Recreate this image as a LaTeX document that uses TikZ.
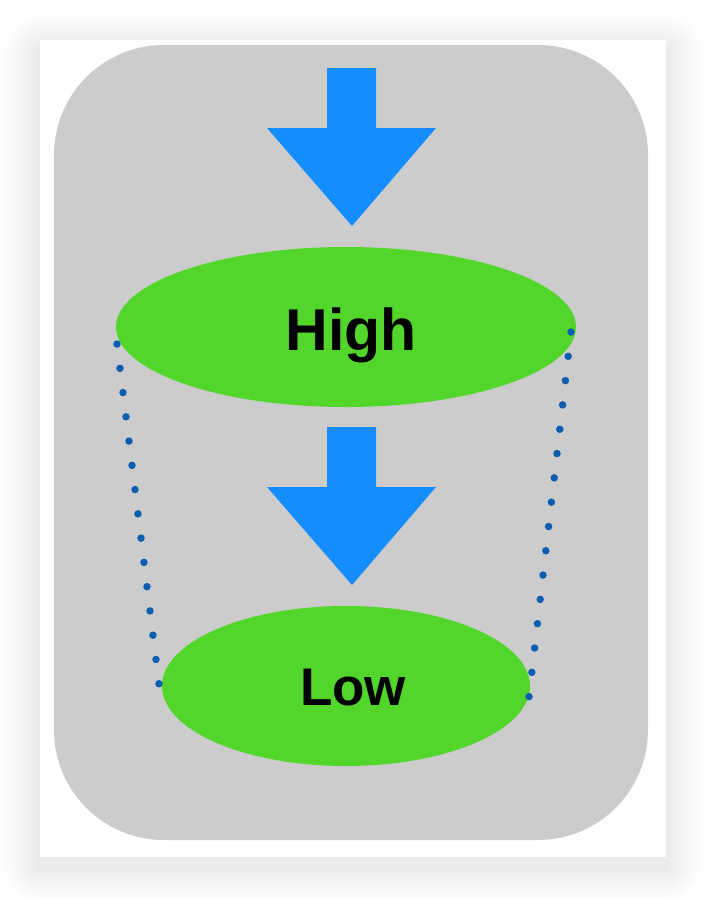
\documentclass[tikz,border=0pt]{standalone}
\usepackage{fontspec}
\setmainfont{Liberation Sans}
\usetikzlibrary{calc,shapes.geometric}
\definecolor{panelgray}{RGB}{204,204,204}
\definecolor{nodegreen}{RGB}{83,214,44}
\definecolor{arrowblue}{RGB}{20,142,255}
\definecolor{dotblue}{RGB}{12,94,176}
\tikzset{
  level/.style={ellipse, fill=nodegreen, inner sep=0pt},
  bigarrow/.style={fill=arrowblue, draw=none},
  dotline/.style={draw=dotblue, line width=7.5pt, line cap=round},
  lbl/.style={anchor=base, inner sep=0pt, font=\bfseries}
}
\begin{document}
\begin{tikzpicture}[x=1pt,y=-1pt]
\useasboundingbox (0,0) rectangle (706,898);
% soft shadow
\foreach \i in {1,...,10}{
  \fill[black, opacity=0.007, rounded corners={4*\i pt}] (40-3.5*\i,40-3.5*\i+9) rectangle (666+3.5*\i,857+3.5*\i+9);
}
% card
\fill[white] (40,40) rectangle (666,857);
% panel
\fill[panelgray, rounded corners=110pt] (54,45) rectangle (648,840);
% arrows
\fill[bigarrow] (327,68) -- (376,68) -- (376,128) -- (436,128) -- (352,226) -- (267,128) -- (327,128) -- cycle;
\fill[bigarrow] (327,427) -- (376,427) -- (376,487) -- (436,487) -- (352,585) -- (267,487) -- (327,487) -- cycle;
% ellipses
\node[level, minimum width=460pt, minimum height=160pt] (high) at (346,327) {};
\node[level, minimum width=368pt, minimum height=160pt] (low) at (346,686) {};
\node[lbl, font=\fontsize{59}{59}\selectfont\bfseries] (hightext) at (351,350) {High};
\node[lbl, font=\fontsize{53}{53}\selectfont\bfseries] (lowtext) at (353,705) {Low};
% dotted connectors
\coordinate (hl) at (117,344);
\coordinate (ll) at (159,684);
\coordinate (hr) at (571,332);
\coordinate (lr) at (529,697);
\draw[dotline, dash pattern=on 0pt off 24.45pt] (hl) -- (ll);
\draw[dotline, dash pattern=on 0pt off 24.47pt] (hr) -- (lr);
\end{tikzpicture}
\end{document}
